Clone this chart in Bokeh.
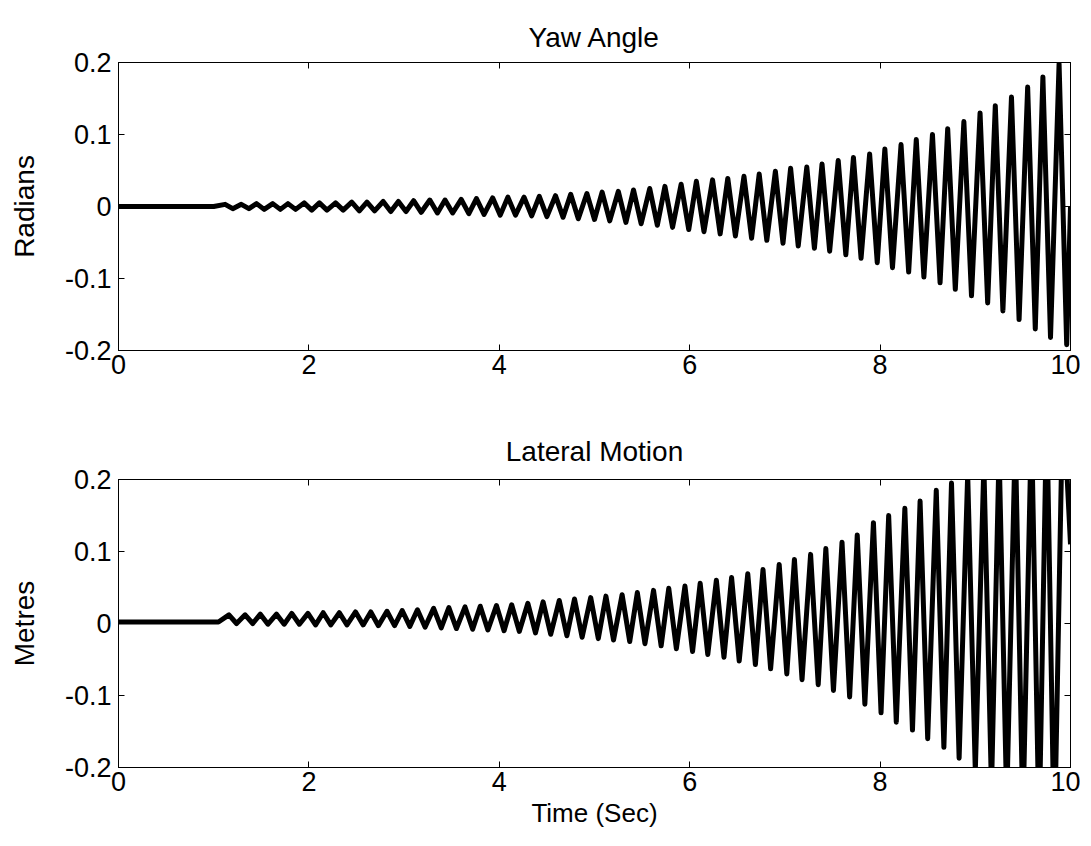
from bokeh.plotting import figure
from bokeh.layouts import column
from bokeh.models import LinearAxis, FixedTicker, CustomJSTickFormatter, Range1d
from bokeh.embed import file_html
from bokeh.resources import INLINE

# ---------------- data ----------------
x_ticks = [0, 2, 4, 6, 8, 10]
y_ticks = [-0.2, -0.1, 0, 0.1, 0.2]

# Yaw angle (radians): flat start, then growing oscillation (extrema)
yaw_start_t = [0.0, 1.0]
yaw_start_v = [0.0, 0.0]
yaw_peak_t = [1.12, 1.29, 1.45, 1.62, 1.78, 1.95, 2.11, 2.28, 2.45, 2.61, 2.78, 2.94,
              3.10, 3.27, 3.43, 3.60, 3.76, 3.93, 4.09, 4.26, 4.42, 4.59, 4.75, 4.92,
              5.08, 5.25, 5.41, 5.58, 5.74, 5.91, 6.07, 6.24, 6.40, 6.57, 6.73, 6.90,
              7.06, 7.23, 7.39, 7.56, 7.72, 7.89, 8.05, 8.22, 8.38, 8.55, 8.71, 8.88,
              9.05, 9.21, 9.38, 9.55, 9.71, 9.88]
yaw_peak_v = [0.003, 0.003, 0.004, 0.004, 0.004, 0.005, 0.005, 0.005, 0.006, 0.006, 0.007, 0.007,
              0.008, 0.009, 0.009, 0.010, 0.011, 0.012, 0.013, 0.013, 0.014, 0.015, 0.017, 0.018,
              0.020, 0.021, 0.023, 0.025, 0.028, 0.031, 0.035, 0.037, 0.039, 0.042, 0.045, 0.049,
              0.053, 0.055, 0.059, 0.064, 0.068, 0.073, 0.080, 0.086, 0.093, 0.100, 0.108, 0.118,
              0.130, 0.140, 0.152, 0.166, 0.180, 0.198]
yaw_trough_t = [1.20, 1.37, 1.53, 1.70, 1.86, 2.03, 2.19, 2.36, 2.53, 2.69, 2.86, 3.02,
                3.18, 3.35, 3.51, 3.68, 3.84, 4.01, 4.17, 4.34, 4.50, 4.67, 4.83, 5.00,
                5.16, 5.33, 5.49, 5.66, 5.82, 5.99, 6.15, 6.32, 6.48, 6.65, 6.81, 6.98,
                7.14, 7.31, 7.47, 7.64, 7.80, 7.97, 8.13, 8.30, 8.46, 8.63, 8.79, 8.96,
                9.13, 9.29, 9.46, 9.63, 9.79, 9.96]
yaw_trough_v = [-0.003, -0.003, -0.004, -0.004, -0.004, -0.005, -0.005, -0.005, -0.006, -0.006, -0.007, -0.007,
                -0.008, -0.009, -0.009, -0.010, -0.011, -0.012, -0.012, -0.013, -0.014, -0.015, -0.017, -0.018,
                -0.020, -0.022, -0.024, -0.026, -0.029, -0.032, -0.035, -0.038, -0.041, -0.044, -0.047, -0.051,
                -0.055, -0.058, -0.062, -0.067, -0.072, -0.078, -0.085, -0.091, -0.098, -0.106, -0.115, -0.124,
                -0.134, -0.145, -0.157, -0.170, -0.182, -0.192]
yaw_end_t = [10.0]
yaw_end_v = [0.0]

# Lateral motion (metres)
lat_start_t = [0.0, 1.05]
lat_start_v = [0.002, 0.002]
lat_peak_t = [1.16, 1.33, 1.49, 1.66, 1.82, 1.99, 2.15, 2.32, 2.49, 2.65, 2.82, 2.98,
              3.14, 3.31, 3.47, 3.64, 3.80, 3.97, 4.13, 4.30, 4.46, 4.63, 4.79, 4.96,
              5.12, 5.29, 5.45, 5.62, 5.78, 5.95, 6.11, 6.28, 6.44, 6.61, 6.77, 6.94,
              7.10, 7.27, 7.43, 7.60, 7.76, 7.93, 8.09, 8.26, 8.42, 8.59, 8.75, 8.92,
              9.09, 9.25, 9.42, 9.59, 9.75, 9.92]
lat_peak_v = [0.012, 0.012, 0.013, 0.013, 0.014, 0.014, 0.015, 0.015, 0.016, 0.016, 0.017, 0.018,
              0.019, 0.021, 0.022, 0.023, 0.024, 0.025, 0.026, 0.028, 0.030, 0.032, 0.034, 0.036,
              0.038, 0.040, 0.043, 0.046, 0.049, 0.052, 0.056, 0.060, 0.064, 0.069, 0.075, 0.082,
              0.089, 0.096, 0.104, 0.113, 0.123, 0.140, 0.150, 0.160, 0.170, 0.185, 0.195, 0.207,
              0.22, 0.24, 0.26, 0.28, 0.30, 0.32]
lat_trough_t = [1.24, 1.41, 1.57, 1.74, 1.90, 2.07, 2.23, 2.40, 2.57, 2.73, 2.90, 3.06,
                3.22, 3.39, 3.55, 3.72, 3.88, 4.05, 4.21, 4.38, 4.54, 4.71, 4.87, 5.04,
                5.20, 5.37, 5.53, 5.70, 5.86, 6.03, 6.19, 6.36, 6.52, 6.69, 6.85, 7.02,
                7.18, 7.35, 7.51, 7.68, 7.84, 8.01, 8.17, 8.34, 8.50, 8.67, 8.83, 9.00,
                9.17, 9.33, 9.50, 9.67, 9.83]
lat_trough_v = [0.000, 0.000, -0.001, -0.001, -0.001, -0.002, -0.002, -0.002, -0.002, -0.003, -0.003, -0.004,
                -0.005, -0.006, -0.007, -0.008, -0.009, -0.010, -0.011, -0.013, -0.015, -0.017, -0.019, -0.021,
                -0.023, -0.025, -0.028, -0.031, -0.035, -0.039, -0.043, -0.047, -0.052, -0.057, -0.063, -0.070,
                -0.078, -0.085, -0.093, -0.102, -0.112, -0.124, -0.137, -0.148, -0.160, -0.172, -0.187, -0.205,
                -0.23, -0.25, -0.27, -0.29, -0.31]
lat_end_t = [10.0]
lat_end_v = [0.11]


def build(start_t, start_v, pt, pv, tt, tv, end_t, end_v):
    xs, ys = list(start_t), list(start_v)
    for i in range(len(pt)):
        xs.append(pt[i]); ys.append(pv[i])
        if i < len(tt):
            xs.append(tt[i]); ys.append(tv[i])
    xs += end_t; ys += end_v
    return xs, ys


yaw_x, yaw_y = build(yaw_start_t, yaw_start_v, yaw_peak_t, yaw_peak_v,
                     yaw_trough_t, yaw_trough_v, yaw_end_t, yaw_end_v)
lat_x, lat_y = build(lat_start_t, lat_start_v, lat_peak_t, lat_peak_v,
                     lat_trough_t, lat_trough_v, lat_end_t, lat_end_v)

FONT = "Liberation Sans"


def style_axis(ax, labels=True, size="27px"):
    ax.major_tick_in = 6
    ax.major_tick_out = 0
    ax.minor_tick_in = 0
    ax.minor_tick_out = 0
    ax.axis_line_color = "black"
    ax.major_tick_line_color = "black"
    ax.major_label_text_font = FONT
    ax.major_label_text_font_size = size
    ax.major_label_text_color = "black"
    ax.axis_label_text_font = FONT
    ax.axis_label_text_font_style = "normal"
    ax.axis_label_text_color = "black"
    if not labels:
        ax.formatter = CustomJSTickFormatter(code="return '';")
        ax.major_label_text_font_size = "1px"


def make_fig(title, ylabel, xs, ys, top, bottom, title_standoff, xlabel=None):
    p = figure(frame_width=952, frame_height=288,
               x_range=Range1d(0, 10), y_range=Range1d(-0.2, 0.2),
               output_backend="svg", toolbar_location=None,
               min_border_left=118, min_border_right=10,
               min_border_top=top, min_border_bottom=bottom)
    p.xgrid.visible = False
    p.ygrid.visible = False
    p.outline_line_color = "black"
    p.outline_line_width = 1
    p.background_fill_color = "white"
    p.border_fill_color = "white"

    p.title.text = title
    p.title.align = "center"
    p.title.text_font = FONT
    p.title.text_font_size = "28px"
    p.title.text_font_style = "normal"
    p.title.text_color = "black"
    p.title.standoff = title_standoff

    p.xaxis.ticker = FixedTicker(ticks=x_ticks)
    p.yaxis.ticker = FixedTicker(ticks=y_ticks)
    p.yaxis.formatter = CustomJSTickFormatter(code="return tick == 0 ? '0' : tick.toFixed(1);")
    style_axis(p.xaxis[0])
    style_axis(p.yaxis[0])
    p.xaxis.major_label_standoff = 4
    p.yaxis.major_label_standoff = 7
    p.yaxis.axis_label = ylabel
    p.yaxis.axis_label_text_font_size = "28px"
    p.yaxis.axis_label_standoff = 22
    if xlabel:
        p.xaxis.axis_label = xlabel
        p.xaxis.axis_label_text_font_size = "26px"
        p.xaxis.axis_label_standoff = 4

    top_ax = LinearAxis(ticker=FixedTicker(ticks=x_ticks))
    right_ax = LinearAxis(ticker=FixedTicker(ticks=y_ticks))
    style_axis(top_ax, labels=False)
    style_axis(right_ax, labels=False)
    p.add_layout(top_ax, "above")
    p.add_layout(right_ax, "right")

    p.line(xs, ys, line_color="black", line_width=5, line_join="round")
    return p


p1 = make_fig("Yaw Angle", "Radians", yaw_x, yaw_y, top=62, bottom=58, title_standoff=19)
p2 = make_fig("Lateral Motion", "Metres", lat_x, lat_y, top=71, bottom=66, title_standoff=26,
              xlabel="Time (Sec)")

layout = column(p1, p2, spacing=0)
open("out.html", "w").write(file_html(layout, INLINE))
